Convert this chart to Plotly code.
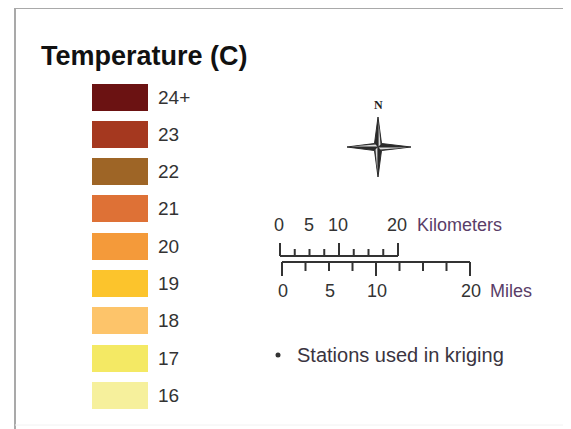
import plotly.graph_objects as go

# ---------------- data ----------------
title_text = "Temperature (C)"
class_labels = ["24+", "23", "22", "21", "20", "19", "18", "17", "16"]
class_colors = ["#6b1212", "#a5381f", "#9e6526", "#de7136", "#f49a3a",
                "#fcc42c", "#fdc46a", "#f4e964", "#f6f09c"]
km_ticks = [0, 2.5, 5, 7.5, 10, 12.5, 15, 17.5, 20]
km_major = [0, 10, 20]
km_labels = [0, 5, 10, 20]
mile_ticks = [0, 2.5, 5, 7.5, 10, 12.5, 15, 17.5, 20]
mile_major = [0, 10, 20]
mile_labels = [0, 5, 10, 20]
km_unit = "Kilometers"
mile_unit = "Miles"
stations_text = "Stations used in kriging"
north_text = "N"

# ---------------- layout constants ----------------
W, H = 571, 429
OFF = 8  # page body margin compensation
FONT = "Liberation Sans, Arial, sans-serif"
TXT = "#333333"
UNIT = "#5a3d68"

sw_x0, sw_w, sw_h = 92, 56, 27
sw_y0, sw_step = 97, 37.3
centers = [sw_y0 + i * sw_step for i in range(len(class_labels))]

fig = go.Figure()

# swatches
fig.add_trace(go.Bar(
    orientation="h", y=centers, x=[sw_w] * len(class_labels), base=sw_x0,
    width=sw_h, marker=dict(color=class_colors, line=dict(width=0)),
    hoverinfo="skip", showlegend=False))

annotations = []
annotations.append(dict(x=39, y=56, text="<b>%s</b>" % title_text, showarrow=False,
                        xanchor="left", yanchor="middle",
                        font=dict(family=FONT, size=27, color="#111111")))
for c, lab in zip(centers, class_labels):
    annotations.append(dict(x=156, y=c, text=lab, showarrow=False, xanchor="left",
                            yanchor="middle", font=dict(family=FONT, size=19, color=TXT)))

# ---------------- scale bars ----------------
km_x0, km_px = 280, 5.9
km_y = 256
mi_x0, mi_px = 282, 9.4
mi_y = 262
line_style = dict(color="#333333", width=2)

kx = [km_x0 + k * km_px for k in km_ticks]
xs, ys = [kx[0], kx[-1], None], [km_y, km_y, None]
for k, x in zip(km_ticks, kx):
    top = km_y - (13 if k in km_major else 7)
    xs += [x, x, None]
    ys += [km_y, top, None]
fig.add_trace(go.Scatter(x=xs, y=ys, mode="lines", line=line_style,
                         hoverinfo="skip", showlegend=False))

mx = [mi_x0 + m * mi_px for m in mile_ticks]
xs, ys = [mx[0], mx[-1], None], [mi_y, mi_y, None]
for m, x in zip(mile_ticks, mx):
    bot = mi_y + (14 if m in mile_major else 9)
    xs += [x, x, None]
    ys += [mi_y, bot, None]
fig.add_trace(go.Scatter(x=xs, y=ys, mode="lines", line=line_style,
                         hoverinfo="skip", showlegend=False))

for k in km_labels:
    annotations.append(dict(x=km_x0 + k * km_px - 1, y=225, text=str(k), showarrow=False,
                            xanchor="center", yanchor="middle",
                            font=dict(family=FONT, size=18, color=TXT)))
annotations.append(dict(x=415, y=225, text=km_unit, showarrow=False, xanchor="left",
                        yanchor="middle", font=dict(family=FONT, size=18, color=UNIT)))
for m in mile_labels:
    annotations.append(dict(x=mi_x0 + m * mi_px + 1, y=291, text=str(m), showarrow=False,
                            xanchor="center", yanchor="middle",
                            font=dict(family=FONT, size=18, color=TXT)))
annotations.append(dict(x=488, y=291, text=mile_unit, showarrow=False, xanchor="left",
                        yanchor="middle", font=dict(family=FONT, size=18, color=UNIT)))

fig.add_trace(go.Scatter(x=[278], y=[355], mode="markers",
                         marker=dict(size=5, color="#333333"),
                         hoverinfo="skip", showlegend=False))
annotations.append(dict(x=295, y=355, text=stations_text, showarrow=False, xanchor="left",
                        yanchor="middle", font=dict(family=FONT, size=20, color="#3a3440")))

# ---------------- north arrow ----------------
cx, cy = 378, 147
n_len, s_len, e_len, w_len, hw = 30, 30, 33, 31, 3.5
star_x = [cx, cx + hw, cx + e_len, cx + hw, cx, cx - hw, cx - w_len, cx - hw, cx]
star_y = [cy - n_len, cy - hw, cy, cy + hw, cy + s_len, cy + hw, cy, cy - hw, cy - n_len]
fig.add_trace(go.Scatter(x=star_x, y=star_y, mode="lines", fill="toself",
                         fillcolor="#2a2a2a", line=dict(color="#2a2a2a", width=1),
                         hoverinfo="skip", showlegend=False))
hx = [cx + 0.6, cx + hw - 1, cx + 0.6, None,
      cx + 0.6, cx + e_len - 4, cx + hw - 1, None,
      cx - 0.6, cx - hw + 1, cx - 0.6, None,
      cx - 0.6, cx - w_len + 4, cx - hw + 1, None]
hy = [cy - n_len + 5, cy - hw + 1, cy - 0.6, None,
      cy + 0.6, cy + 0.6, cy + hw - 1, None,
      cy + s_len - 5, cy + hw - 1, cy + 0.6, None,
      cy - 0.6, cy - 0.6, cy - hw + 1, None]
fig.add_trace(go.Scatter(x=hx, y=hy, mode="lines", fill="toself", fillcolor="#dddddd",
                         line=dict(width=0), hoverinfo="skip", showlegend=False))
annotations.append(dict(x=cx, y=105, text="<b>%s</b>" % north_text, showarrow=False,
                        xanchor="center", yanchor="middle",
                        font=dict(family="Liberation Serif, serif", size=12, color="#222222")))

# ---------------- frame ----------------
shapes = [
    dict(type="line", x0=15, x1=W + OFF, y0=8, y1=8, line=dict(color="#a9a9a9", width=2)),
    dict(type="line", x0=15, x1=15, y0=8, y1=H + OFF, line=dict(color="#a9a9a9", width=2)),
    dict(type="line", x0=570, x1=570, y0=8, y1=H + OFF, line=dict(color="#eeeeee", width=1)),
    dict(type="line", x0=15, x1=W + OFF, y0=425, y1=425, line=dict(color="#f2f2f2", width=1)),
]

fig.update_layout(
    width=W, height=H, margin=dict(l=0, r=0, t=0, b=0),
    paper_bgcolor="white", plot_bgcolor="white",
    xaxis=dict(range=[OFF, W + OFF], visible=False, fixedrange=True),
    yaxis=dict(range=[H + OFF, OFF], visible=False, fixedrange=True),
    annotations=annotations, shapes=shapes, bargap=0,
)

fig.write_html("out.html")
